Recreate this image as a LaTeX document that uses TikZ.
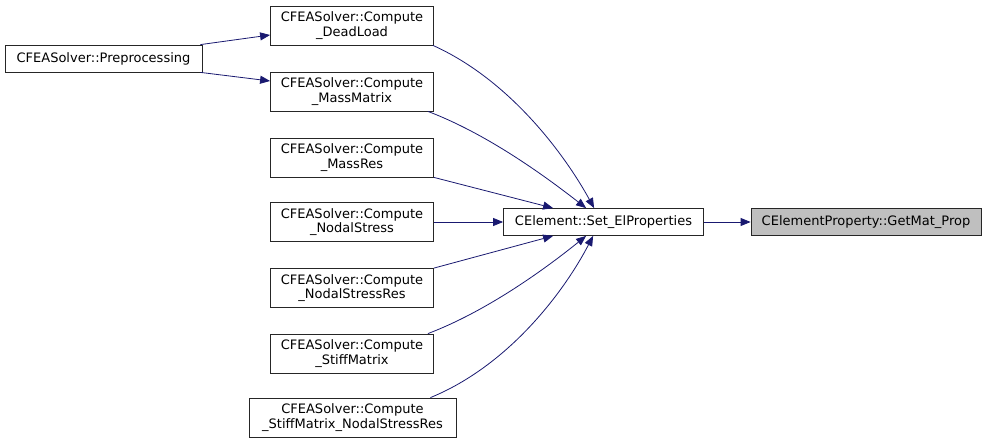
\documentclass[tikz,border=0pt]{standalone}
\usepackage{fontspec}
\setmainfont{DejaVu Sans}
\usetikzlibrary{arrows.meta, positioning}
\definecolor{edgeblue}{HTML}{191970}
\definecolor{hilite}{HTML}{BFBFBF}

\begin{document}
\begin{tikzpicture}[
    x=1pt, y=-1pt,
    every node/.style={font=\fontsize{13}{14.5}\selectfont},
    fn/.style={rectangle, draw=black!85, fill=white, line width=0.8pt, inner sep=2pt,
        minimum width=163pt, minimum height=39pt, align=center},
    fnone/.style={fn, minimum height=27pt},
    call/.style={-{Triangle[length=10pt, width=8pt]}, draw=edgeblue, line width=0.8pt}
]
\useasboundingbox (0,0) rectangle (987,444);

% Knoten
\node[fnone, fill=hilite, minimum width=230pt] (getmat) at (866,222) {CElementProperty::GetMat\_Prop};
\node[fnone, minimum width=200pt] (setel) at (603.5,222) {CElement::Set\_ElProperties};

\node[fn] (dead)   at (352,25.5)  {CFEASolver::Compute\\\_DeadLoad};
\node[fn] (mass)   at (352,91.5)  {CFEASolver::Compute\\\_MassMatrix};
\node[fn] (massres) at (352,157.5) {CFEASolver::Compute\\\_MassRes};
\node[fn] (nodal)  at (352,222) {CFEASolver::Compute\\\_NodalStress};
\node[fn] (nodalres) at (352,288) {CFEASolver::Compute\\\_NodalStressRes};
\node[fn] (stiff)  at (352,353.5) {CFEASolver::Compute\\\_StiffMatrix};
\node[fn, minimum width=207pt] (stiffnodal) at (352.5,417.5) {CFEASolver::Compute\\\_StiffMatrix\_NodalStressRes};

\node[fnone, minimum width=197pt] (prep) at (103.5,58.5) {CFEASolver::Preprocessing};

% Kanten
\draw[call] ([xshift=-2pt]prep.north east) -- ([yshift=-9.5pt]dead.west);
\draw[call] ([xshift=-2pt]prep.south east) -- ([yshift=10.5pt]mass.west);

\draw[call] ([xshift=-1pt]dead.south east) .. controls (510,80) and (565,155) .. ([xshift=91pt]setel.north west);
\draw[call] ([xshift=-6pt]mass.south east) .. controls (490,135) and (550,180) .. ([xshift=83pt]setel.north west);
\draw[call] (massres.south east) -- ([xshift=50pt]setel.north west);
\draw[call] (nodal) -- (setel);
\draw[call] (nodalres.north east) -- ([xshift=50pt]setel.south west);
\draw[call] ([xshift=-6pt]stiff.north east) .. controls (490,310) and (550,265) .. ([xshift=83pt]setel.south west);
\draw[call] ([xshift=-26pt]stiffnodal.north east) .. controls (510,365) and (565,290) .. ([xshift=90pt]setel.south west);

\draw[call] (setel) -- (getmat);
\end{tikzpicture}
\end{document}
